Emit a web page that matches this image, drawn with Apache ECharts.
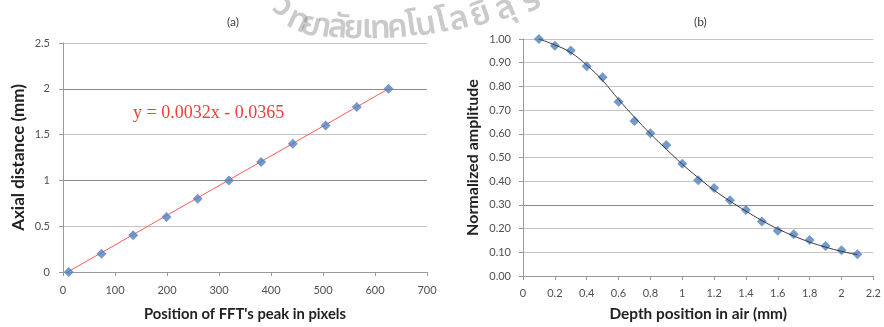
<!DOCTYPE html>
<html><head><meta charset="utf-8">
<script src="https://cdn.jsdelivr.net/npm/echarts@6/dist/echarts.min.js"></script>
<style>html,body{margin:0;padding:0;background:#fff}#c{width:884px;height:327px}</style>
</head><body><div id="c"></div>
<script>
// ---- Chart (a) ----
const pixelPos   = [11, 74, 135, 199, 259, 319, 381, 442, 505, 565, 626];
const axialDist  = [0, 0.2, 0.4, 0.6, 0.8, 1.0, 1.2, 1.4, 1.6, 1.8, 2.0];
const trendAx    = [9, 626];
const trendAy    = [0, 2.0];
const xTicksA    = [0, 100, 200, 300, 400, 500, 600, 700];
const yTicksA    = [0, 0.5, 1, 1.5, 2, 2.5];
const equationA  = 'y = 0.0032x - 0.0365';

// ---- Chart (b) ----
const depth      = [0.1, 0.2, 0.3, 0.4, 0.5, 0.6, 0.7, 0.8, 0.9, 1.0, 1.1, 1.2, 1.3, 1.4, 1.5, 1.6, 1.7, 1.8, 1.9, 2.0, 2.1];
const amplitude  = [1.00, 0.972, 0.951, 0.885, 0.839, 0.735, 0.654, 0.602, 0.553, 0.474, 0.404, 0.371, 0.320, 0.279, 0.230, 0.191, 0.176, 0.152, 0.127, 0.109, 0.092];
const fitB       = [1.00, 0.975, 0.943, 0.89, 0.825, 0.745, 0.67, 0.60, 0.535, 0.472, 0.415, 0.362, 0.316, 0.274, 0.234, 0.199, 0.169, 0.143, 0.122, 0.104, 0.09];
const xTicksB    = [0, 0.2, 0.4, 0.6, 0.8, 1.0, 1.2, 1.4, 1.6, 1.8, 2.0, 2.2];
const yTicksB    = [0, 0.1, 0.2, 0.3, 0.4, 0.5, 0.6, 0.7, 0.8, 0.9, 1.0];

const watermark  = ['วิ','ท','ย','า','ลั','ย','เ','ท','ค','โ','น','โ','ล','ยี','สุ','ร'];

const FONT = 'Lato, "Open Sans", sans-serif';
const LBL = '#505050';
const GRID = '#c4c4c4';
const GRID_DARK = '#8a8a8a';
const BLUE = '#4F81BD';

function zip(a, b) { return a.map((v, i) => [v, b[i]]); }

// watermark layout (arc-like placement)
const wmPos = [[272,22,35],[290,38,25],[306,44,15],[321,46,10],[336,47,5],[353,48,2],[367,48,0],[381,48,-2],[399,47,-5],[414,45,-8],[429,44,-10],[446,41,-13],[464,38,-16],[487,33,-20],[513,26,-24],[540,18,-28]];

const graphics = [
  {type:'text', left:227, top:16, style:{text:'(a)', font:'12px '+FONT, fill:'#404040'}, z:10},
  {type:'text', left:694, top:16, style:{text:'(b)', font:'12px '+FONT, fill:'#404040'}, z:10},
  {type:'text', left:133, top:104, style:{text:equationA, font:'18px "Liberation Serif", serif', fill:'#f23c3c'}, z:10}
];
watermark.forEach((ch, i) => {
  const p = wmPos[i];
  graphics.push({type:'text', x:p[0], y:p[1], rotation:-p[2]*Math.PI/180, z:100,
    style:{text:ch, font:'600 33px "Noto Sans Thai", "Noto Sans", "DejaVu Sans", sans-serif', fill:'rgba(128,128,128,0.42)', textAlign:'center', textVerticalAlign:'bottom'}});
});

const splitA = yTicksA.map(v => (v === 1 || v === 2) ? GRID_DARK : GRID);
const splitB = yTicksB.map(v => Math.abs(v - 0.3) < 1e-9 ? GRID_DARK : GRID);

const chart = echarts.init(document.getElementById('c'), null, {renderer:'canvas'});
chart.setOption({
  animation:false,
  backgroundColor:'#fff',
  graphic: graphics,
  grid:[
    {left:63, right:457, top:43, bottom:53},
    {left:523, right:7, top:39, bottom:49}
  ],
  xAxis:[
    {gridIndex:0, type:'value', min:xTicksA[0], max:xTicksA[xTicksA.length-1], interval:xTicksA[1]-xTicksA[0],
     name:"Position of FFT's peak in pixels", nameLocation:'middle', nameGap:35,
     nameTextStyle:{fontFamily:FONT, fontWeight:'bold', fontSize:14.8, color:'#222'},
     axisLine:{show:true, lineStyle:{color:'#9a9a9a'}}, axisTick:{show:true, length:4, lineStyle:{color:'#9a9a9a'}},
     axisLabel:{margin:13, fontFamily:FONT, fontSize:11, color:LBL}, splitLine:{show:false}},
    {gridIndex:1, type:'value', min:xTicksB[0], max:xTicksB[xTicksB.length-1], interval:0.2,
     name:'Depth position in air (mm)', nameLocation:'middle', nameGap:31,
     nameTextStyle:{fontFamily:FONT, fontWeight:'bold', fontSize:15.4, color:'#222'},
     axisLine:{show:true, lineStyle:{color:'#9a9a9a'}}, axisTick:{show:true, length:4, lineStyle:{color:'#9a9a9a'}},
     axisLabel:{margin:12, fontFamily:FONT, fontSize:11, color:LBL, formatter:v => String(+v.toFixed(1))}, splitLine:{show:false}}
  ],
  yAxis:[
    {gridIndex:0, type:'value', min:yTicksA[0], max:yTicksA[yTicksA.length-1], interval:0.5,
     name:'Axial distance (mm)', nameLocation:'middle', nameGap:36,
     nameTextStyle:{fontFamily:FONT, fontWeight:'bold', fontSize:17, color:'#222'},
     axisLine:{show:true, lineStyle:{color:'#9a9a9a'}}, axisTick:{show:true, length:4, lineStyle:{color:'#9a9a9a'}},
     axisLabel:{margin:13, fontFamily:FONT, fontSize:11, color:LBL, formatter:v => String(+v.toFixed(1))},
     splitLine:{show:true, lineStyle:{color:splitA, width:1}}},
    {gridIndex:1, type:'value', min:yTicksB[0], max:yTicksB[yTicksB.length-1], interval:0.1,
     name:'Normalized amplitude', nameLocation:'middle', nameGap:42,
     nameTextStyle:{fontFamily:FONT, fontWeight:'bold', fontSize:16, color:'#222'},
     axisLine:{show:true, lineStyle:{color:'#9a9a9a'}}, axisTick:{show:true, length:4, lineStyle:{color:'#9a9a9a'}},
     axisLabel:{margin:12, fontFamily:FONT, fontSize:11, color:LBL, formatter:v => v.toFixed(2)},
     splitLine:{show:true, lineStyle:{color:splitB, width:1}}}
  ],
  series:[
    {type:'line', xAxisIndex:0, yAxisIndex:0, data:zip(trendAx, trendAy), symbol:'none',
     lineStyle:{color:'#ff5a5a', width:1}, z:2},
    {type:'scatter', xAxisIndex:0, yAxisIndex:0, data:zip(pixelPos, axialDist), symbol:'diamond', symbolSize:10,
     itemStyle:{color:BLUE}, z:3},
    {type:'line', xAxisIndex:1, yAxisIndex:1, data:zip(depth, fitB), symbol:'none', smooth:0.4,
     lineStyle:{color:'#3a3a3a', width:1}, z:4},
    {type:'scatter', xAxisIndex:1, yAxisIndex:1, data:zip(depth, amplitude), symbol:'diamond', symbolSize:10,
     itemStyle:{color:BLUE}, z:3}
  ]
});
</script></body></html>
